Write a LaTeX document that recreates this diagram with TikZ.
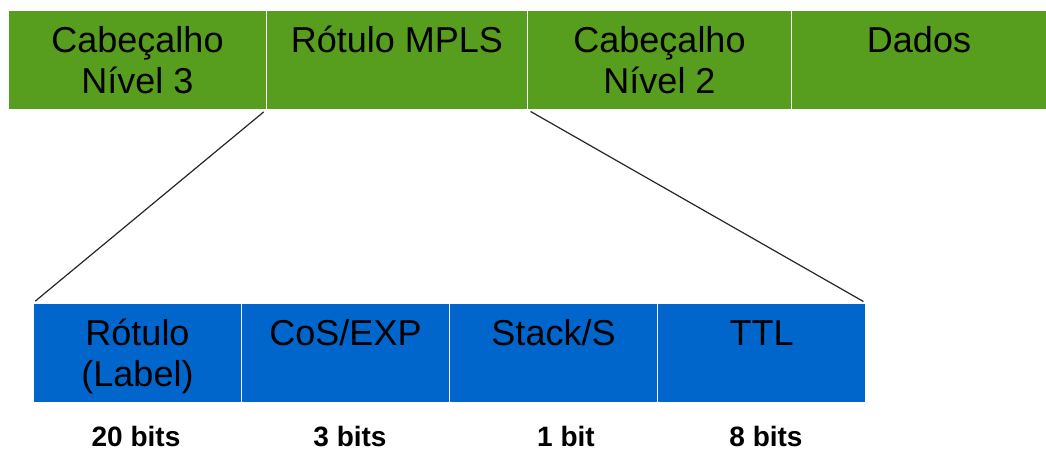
\documentclass[tikz,border=0pt]{standalone}
\usepackage{fontspec}
\setmainfont{Liberation Sans}

\definecolor{framegreen}{RGB}{87,157,30}
\definecolor{labelblue}{RGB}{0,102,204}

\tikzset{
  field/.style={draw=white, line width=1pt, anchor=north west, align=center,
    minimum height=99pt, inner sep=0pt, text height=67pt, text depth=0pt,
    font=\fontsize{36}{41}\selectfont},
  hdr/.style={field, fill=framegreen},
  lbl/.style={field, fill=labelblue, minimum width=208pt},
  bitlen/.style={anchor=base, font=\fontsize{28}{32}\selectfont\bfseries},
  zoomline/.style={draw=black!85, line width=1.2pt, shorten <=3pt, shorten >=3pt},
}

\begin{document}
\begin{tikzpicture}[x=1pt, y=-1pt]
  \useasboundingbox (0,0) rectangle (1046,452);
  % frame with the shim header (every field text has two lines)
  \foreach \x/\w/\txt [count=\i] in {8/258/{Cabeçalho\\Nível 3}, 266/261/{Rótulo MPLS\\~},
      527/264/{Cabeçalho\\Nível 2}, 791/255/{Dados\\~}}
    \node[hdr, minimum width=\w pt] (h\i) at (\x,10) {\txt};
  % fields of the shim header
  \foreach \x/\txt [count=\i] in {33/{Rótulo\\(Label)}, 241/{CoS/EXP\\~}, 449/{Stack/S\\~}, 657/{TTL\\~}}
    \node[lbl] (f\i) at (\x,303) {\txt};
  \draw[zoomline] (h2.south west) -- (f1.north west);
  \draw[zoomline] (h2.south east) -- (f4.north east);
  % field sizes
  \foreach \x/\lab [count=\i] in {136/20 bits, 350/3 bits, 566/1 bit, 766/8 bits}
    \node[bitlen] (n\i) at (\x,446) {\lab};
\end{tikzpicture}
\end{document}
